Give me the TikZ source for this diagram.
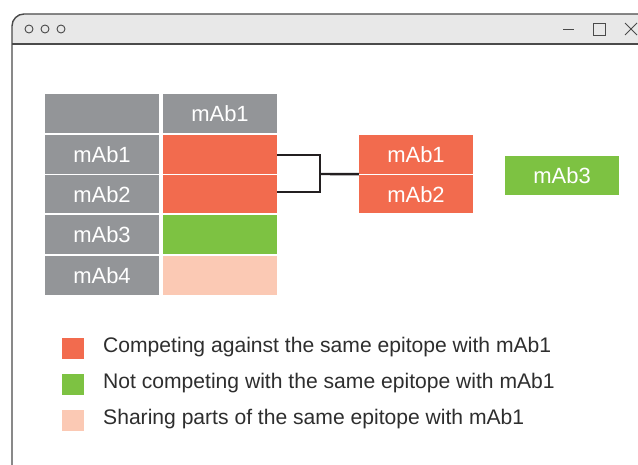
\documentclass[tikz,border=0pt]{standalone}
\usepackage{fontspec}
\setmainfont{Liberation Sans}
\definecolor{cellgrey}{HTML}{939598}
\definecolor{compred}{HTML}{F26B4E}
\definecolor{noncomp}{HTML}{7DC242}
\definecolor{sharepink}{HTML}{FBC9B4}
\definecolor{titlebar}{HTML}{E8E8E8}
\definecolor{frame}{HTML}{4A4A4A}
\definecolor{legtext}{HTML}{2E2E2E}
\definecolor{linkline}{HTML}{231F20}
\tikzset{
  cell/.style={rectangle, inner sep=0pt, minimum width=114pt, minimum height=39pt,
    text=white, font=\fontsize{22}{25}\selectfont},
  legbox/.style={rectangle, inner sep=0pt, minimum width=22pt, minimum height=21pt},
  legtxt/.style={anchor=west, inner sep=0pt, text=legtext, font=\fontsize{21.1}{24}\selectfont},
  bracketline/.style={draw=linkline, line width=2.4pt},
  winline/.style={draw=frame, line width=1.4pt},
  icon/.style={draw=frame, line width=0.9pt}
}
\begin{document}
\begin{tikzpicture}[x=1pt,y=-1pt]
\clip (0,0) rectangle (638,465);
\fill[white] (0,0) rectangle (638,465);
% window
\fill[titlebar] (12,44) [rounded corners=12pt] -- (12,14) [sharp corners] -- (660,14) -- (660,44) -- cycle;
\draw[winline] (12,480) [rounded corners=12pt] -- (12,14) [sharp corners] -- (660,14);
\draw[winline] (12,44) -- (660,44);
\draw[icon] (29,29) circle (4);
\draw[icon] (45,29) circle (4);
\draw[icon] (61,29) circle (4);
\draw[icon] (563,29) -- (574,29);
\draw[icon] (593,23) rectangle (605,35);
\draw[icon] (625,23) -- (637,35);
\draw[icon] (625,35) -- (637,23);
% table
\node[cell, fill=cellgrey] (h0) at (102,113.5) {};
\node[cell, fill=cellgrey] (h1) at (220,113.5) {mAb1};
\node[cell, fill=cellgrey] (r1) at (102,154.5) {mAb1};
\node[cell, fill=compred] (c1) at (220,154.5) {};
\node[cell, fill=cellgrey, minimum height=38.5pt] (r2) at (102,194.25) {mAb2};
\node[cell, fill=compred, minimum height=38.5pt] (c2) at (220,194.25) {};
\node[cell, fill=cellgrey] (r3) at (102,234.5) {mAb3};
\node[cell, fill=noncomp] (c3) at (220,234.5) {};
\node[cell, fill=cellgrey] (r4) at (102,275.5) {mAb4};
\node[cell, fill=sharepink] (c4) at (220,275.5) {};
% groups
\node[cell, fill=compred] (m1) at (416,154.5) {mAb1};
\node[cell, fill=compred, minimum height=38.5pt] (m2) at (416,194.25) {mAb2};
\node[cell, fill=noncomp] (m3) at (562,175.5) {mAb3};
% bracket
\coordinate (j) at (320,174);
\draw[bracketline] ([yshift=-0.5pt]c1.east) -| (j) |- ([yshift=2pt]c2.east);
\draw[bracketline] (j) -- (m1.south west);
% legend
\node[legbox, fill=compred] (l1) at (73,348.5) {};
\node[legbox, fill=noncomp] (l2) at (73,384.5) {};
\node[legbox, fill=sharepink] (l3) at (73,420.5) {};
\node[legtxt] (t1) at (103,347.5) {Competing against the same epitope with mAb1};
\node[legtxt] (t2) at (103,383.5) {Not competing with the same epitope with mAb1};
\node[legtxt] (t3) at (103,419.5) {Sharing parts of the same epitope with mAb1};
\end{tikzpicture}
\end{document}
